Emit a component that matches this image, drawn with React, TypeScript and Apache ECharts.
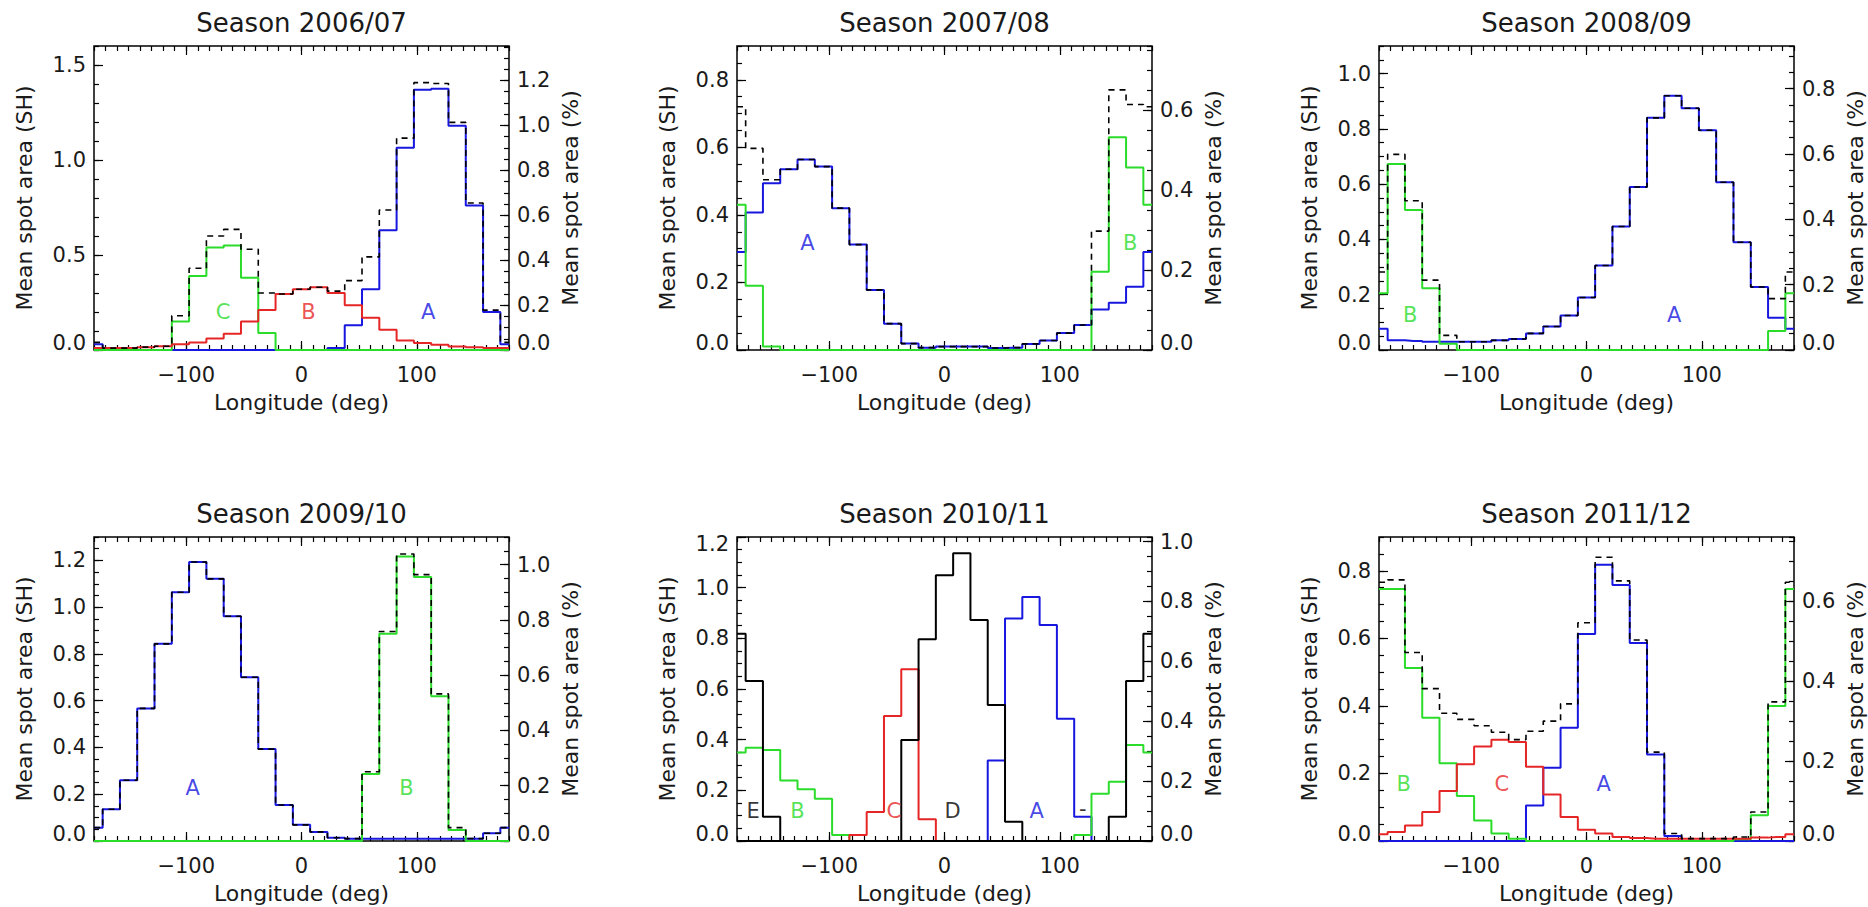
import React, { useEffect, useRef } from 'react';
import * as echarts from 'echarts';

// Bin centres (deg); -180 and 180 are the same wrapped bin
const LONGITUDES = [-180, -165, -150, -135, -120, -105, -90, -75, -60, -45, -30, -15, 0, 15, 30, 45, 60, 75, 90, 105, 120, 135, 150, 165, 180];
const X_LABELS = [-100, 0, 100];

// Season 2006/07
const S0607_A = [0.03, 0, 0, 0, 0, 0, 0, 0, 0, 0, 0, 0, 0, 0, 0.01, 0.13, 0.32, 0.63, 1.065, 1.37, 1.375, 1.18, 0.76, 0.2, 0.03];
const S0607_B = [0.01, 0.01, 0.01, 0.015, 0.02, 0.03, 0.04, 0.06, 0.085, 0.15, 0.21, 0.295, 0.32, 0.33, 0.3, 0.235, 0.17, 0.107, 0.05, 0.037, 0.028, 0.018, 0.014, 0.01, 0.01];
const S0607_C = [0, 0, 0, 0, 0, 0.15, 0.39, 0.54, 0.55, 0.38, 0.09, 0, 0, 0, 0, 0, 0, 0, 0, 0, 0, 0, 0, 0, 0];
const S0607_TOTAL = [0.04, 0.01, 0.01, 0.015, 0.02, 0.18, 0.43, 0.6, 0.635, 0.53, 0.3, 0.295, 0.32, 0.33, 0.31, 0.365, 0.49, 0.737, 1.115, 1.407, 1.403, 1.198, 0.774, 0.21, 0.04];

// Season 2007/08
const S0708_A = [0.29, 0.407, 0.494, 0.535, 0.564, 0.543, 0.42, 0.312, 0.178, 0.078, 0.019, 0.007, 0.01, 0.01, 0.01, 0.006, 0.007, 0.018, 0.028, 0.05, 0.074, 0.12, 0.14, 0.187, 0.29];
const S0708_B = [0.43, 0.19, 0.01, 0, 0, 0, 0, 0, 0, 0, 0, 0, 0, 0, 0, 0, 0, 0, 0, 0, 0, 0.232, 0.63, 0.54, 0.43];
const S0708_TOTAL = [0.72, 0.597, 0.504, 0.535, 0.564, 0.543, 0.42, 0.312, 0.178, 0.078, 0.019, 0.007, 0.01, 0.01, 0.01, 0.006, 0.007, 0.018, 0.028, 0.05, 0.074, 0.352, 0.77, 0.727, 0.72];

// Season 2008/09
const S0809_A = [0.077, 0.035, 0.033, 0.03, 0.03, 0.03, 0.03, 0.035, 0.04, 0.06, 0.085, 0.125, 0.19, 0.306, 0.447, 0.59, 0.84, 0.92, 0.875, 0.795, 0.607, 0.39, 0.228, 0.117, 0.077];
const S0809_B = [0.205, 0.673, 0.507, 0.223, 0.023, 0, 0, 0, 0, 0, 0, 0, 0, 0, 0, 0, 0, 0, 0, 0, 0, 0, 0, 0.069, 0.205];
const S0809_TOTAL = [0.282, 0.708, 0.54, 0.253, 0.053, 0.03, 0.03, 0.035, 0.04, 0.06, 0.085, 0.125, 0.19, 0.306, 0.447, 0.59, 0.84, 0.92, 0.875, 0.795, 0.607, 0.39, 0.228, 0.186, 0.282];

// Season 2009/10
const S0910_A = [0.057, 0.136, 0.26, 0.567, 0.843, 1.064, 1.193, 1.121, 0.961, 0.7, 0.393, 0.154, 0.069, 0.039, 0.014, 0.01, 0.01, 0.01, 0.01, 0.01, 0.01, 0.01, 0.01, 0.033, 0.057];
const S0910_B = [0, 0, 0, 0, 0, 0, 0, 0, 0, 0, 0, 0, 0, 0, 0, 0, 0.286, 0.886, 1.217, 1.129, 0.619, 0.047, 0, 0, 0];
const S0910_TOTAL = [0.057, 0.136, 0.26, 0.567, 0.843, 1.064, 1.193, 1.121, 0.961, 0.7, 0.393, 0.154, 0.069, 0.039, 0.014, 0.01, 0.296, 0.896, 1.227, 1.139, 0.629, 0.057, 0.01, 0.033, 0.057];

// Season 2010/11
const S1011_A = [0, 0, 0, 0, 0, 0, 0, 0, 0, 0, 0, 0, 0, 0, 0, 0.318, 0.878, 0.963, 0.853, 0.483, 0.096, 0, 0, 0, 0];
const S1011_B = [0.349, 0.368, 0.359, 0.239, 0.204, 0.167, 0.024, 0, 0, 0, 0, 0, 0, 0, 0, 0, 0, 0, 0, 0, 0.024, 0.187, 0.234, 0.379, 0.349];
const S1011_C = [0, 0, 0, 0, 0, 0, 0, 0.024, 0.114, 0.493, 0.678, 0.086, 0, 0, 0, 0, 0, 0, 0, 0, 0, 0, 0, 0, 0];
const S1011_D = [0, 0, 0, 0, 0, 0, 0, 0, 0, 0, 0.399, 0.796, 1.049, 1.136, 0.872, 0.537, 0.076, 0, 0, 0, 0, 0, 0, 0, 0];
const S1011_E = [0.818, 0.632, 0.096, 0, 0, 0, 0, 0, 0, 0, 0, 0, 0, 0, 0, 0, 0, 0, 0, 0, 0, 0, 0.096, 0.632, 0.818];

// Season 2011/12
const S1112_A = [0, 0, 0, 0, 0, 0, 0, 0, 0, 0.105, 0.217, 0.335, 0.613, 0.818, 0.758, 0.586, 0.256, 0.015, 0, 0, 0, 0, 0, 0, 0];
const S1112_B = [0.746, 0.746, 0.512, 0.365, 0.23, 0.133, 0.061, 0.022, 0.007, 0, 0, 0, 0, 0, 0, 0, 0, 0, 0, 0, 0, 0.005, 0.076, 0.4, 0.746];
const S1112_C = [0.02, 0.027, 0.046, 0.086, 0.148, 0.227, 0.28, 0.3, 0.293, 0.22, 0.138, 0.071, 0.033, 0.022, 0.012, 0.009, 0.007, 0.007, 0.007, 0.007, 0.007, 0.007, 0.01, 0.012, 0.02];
const S1112_TOTAL = [0.766, 0.773, 0.558, 0.451, 0.378, 0.36, 0.341, 0.322, 0.3, 0.325, 0.355, 0.406, 0.646, 0.84, 0.77, 0.595, 0.263, 0.022, 0.007, 0.007, 0.007, 0.012, 0.086, 0.412, 0.766];

// Axis tick labels
const LEFT_LABELS_0607 = [0, 0.5, 1.0, 1.5];
const LEFT_LABELS_0708 = [0, 0.2, 0.4, 0.6, 0.8];
const LEFT_LABELS_0809 = [0, 0.2, 0.4, 0.6, 0.8, 1.0];
const LEFT_LABELS_0910 = [0, 0.2, 0.4, 0.6, 0.8, 1.0, 1.2];
const LEFT_LABELS_1011 = [0, 0.2, 0.4, 0.6, 0.8, 1.0, 1.2];
const LEFT_LABELS_1112 = [0, 0.2, 0.4, 0.6, 0.8];
const RIGHT_LABELS_0607 = [0, 0.2, 0.4, 0.6, 0.8, 1.0, 1.2];
const RIGHT_LABELS_0708 = [0, 0.2, 0.4, 0.6];
const RIGHT_LABELS_0809 = [0, 0.2, 0.4, 0.6, 0.8];
const RIGHT_LABELS_0910 = [0, 0.2, 0.4, 0.6, 0.8, 1.0];
const RIGHT_LABELS_1011 = [0, 0.2, 0.4, 0.6, 0.8, 1.0];
const RIGHT_LABELS_1112 = [0, 0.2, 0.4, 0.6];

// Region letters: [text, longitude, value]
const NOTES_0607: [string, number, number][] = [['C', -68, 0.2], ['B', 6, 0.2], ['A', 110, 0.2]];
const NOTES_0708: [string, number, number][] = [['A', -119, 0.318], ['B', 161, 0.318]];
const NOTES_0809: [string, number, number][] = [['B', -153, 0.125], ['A', 76, 0.125]];
const NOTES_0910: [string, number, number][] = [['A', -94.5, 0.226], ['B', 91, 0.226]];
const NOTES_1011: [string, number, number][] = [['E', -166, 0.12], ['B', -127.5, 0.12], ['C', -44, 0.12], ['D', 7, 0.12], ['A', 80, 0.12], ['-', 120, 0.125]];
const NOTES_1112: [string, number, number][] = [['B', -158.5, 0.17], ['C', -73.5, 0.17], ['A', 15, 0.17]];

const BLUE = '#1717e0';
const GREEN = '#2bdc2b';
const RED = '#e62626';
const BLACK = '#000000';
const TEXT = '#1a1a1a';
const FONT = 'DejaVu Sans';
const PCT_PER_SH = 0.846;

const COLORS_DEFAULT: Record<string, string> = { A: BLUE, B: GREEN, C: RED, D: BLACK, E: BLACK, '-': BLACK };
const COLORS_0607: Record<string, string> = { A: BLUE, B: RED, C: GREEN };

type LineDef = { name: string; values: number[]; color: string; dashed?: boolean };
type PanelDef = {
  title: string;
  left: number;
  top: number;
  leftMax: number;
  leftLabels: number[];
  leftMinor: number;
  rightLabels: number[];
  topLabelAlign?: boolean;
  lines: LineDef[];
  notes: [string, number, number][];
  noteColors: Record<string, string>;
};

const PANELS: PanelDef[] = [
  {
    title: 'Season 2006/07', left: 94, top: 46, leftMax: 1.6, leftLabels: LEFT_LABELS_0607, leftMinor: 0.1, rightLabels: RIGHT_LABELS_0607,
    lines: [
      { name: 'A', values: S0607_A, color: BLUE },
      { name: 'C', values: S0607_C, color: GREEN },
      { name: 'B', values: S0607_B, color: RED },
      { name: 'Total', values: S0607_TOTAL, color: BLACK, dashed: true },
    ],
    notes: NOTES_0607, noteColors: COLORS_0607,
  },
  {
    title: 'Season 2007/08', left: 737, top: 46, leftMax: 0.9, leftLabels: LEFT_LABELS_0708, leftMinor: 0.05, rightLabels: RIGHT_LABELS_0708,
    lines: [
      { name: 'A', values: S0708_A, color: BLUE },
      { name: 'B', values: S0708_B, color: GREEN },
      { name: 'Total', values: S0708_TOTAL, color: BLACK, dashed: true },
    ],
    notes: NOTES_0708, noteColors: COLORS_DEFAULT,
  },
  {
    title: 'Season 2008/09', left: 1379, top: 46, leftMax: 1.1, leftLabels: LEFT_LABELS_0809, leftMinor: 0.05, rightLabels: RIGHT_LABELS_0809,
    lines: [
      { name: 'A', values: S0809_A, color: BLUE },
      { name: 'B', values: S0809_B, color: GREEN },
      { name: 'Total', values: S0809_TOTAL, color: BLACK, dashed: true },
    ],
    notes: NOTES_0809, noteColors: COLORS_DEFAULT,
  },
  {
    title: 'Season 2009/10', left: 94, top: 537, leftMax: 1.3, leftLabels: LEFT_LABELS_0910, leftMinor: 0.05, rightLabels: RIGHT_LABELS_0910,
    lines: [
      { name: 'A', values: S0910_A, color: BLUE },
      { name: 'B', values: S0910_B, color: GREEN },
      { name: 'Total', values: S0910_TOTAL, color: BLACK, dashed: true },
    ],
    notes: NOTES_0910, noteColors: COLORS_DEFAULT,
  },
  {
    title: 'Season 2010/11', left: 737, top: 537, leftMax: 1.2, leftLabels: LEFT_LABELS_1011, leftMinor: 0.05, rightLabels: RIGHT_LABELS_1011, topLabelAlign: true,
    lines: [
      { name: 'A', values: S1011_A, color: BLUE },
      { name: 'B', values: S1011_B, color: GREEN },
      { name: 'C', values: S1011_C, color: RED },
      { name: 'D', values: S1011_D, color: BLACK },
      { name: 'E', values: S1011_E, color: BLACK },
    ],
    notes: NOTES_1011, noteColors: COLORS_DEFAULT,
  },
  {
    title: 'Season 2011/12', left: 1379, top: 537, leftMax: 0.9, leftLabels: LEFT_LABELS_1112, leftMinor: 0.05, rightLabels: RIGHT_LABELS_1112,
    lines: [
      { name: 'A', values: S1112_A, color: BLUE },
      { name: 'B', values: S1112_B, color: GREEN },
      { name: 'C', values: S1112_C, color: RED },
      { name: 'Total', values: S1112_TOTAL, color: BLACK, dashed: true },
    ],
    notes: NOTES_1112, noteColors: COLORS_DEFAULT,
  },
];

const PANEL_W = 415;
const PANEL_H = 304;

const fmtLon = (v: number) => (v < 0 ? '\u2212' + Math.abs(v) : String(v));
const fmtVal = (v: number) => v.toFixed(1);

function buildOption() {
  const grid: any[] = [];
  const xAxis: any[] = [];
  const yAxis: any[] = [];
  const series: any[] = [];
  const title: any[] = [];

  const tickStyle = { color: BLACK, width: 1.2 };
  const labelBase = { color: TEXT, fontFamily: FONT, fontSize: 21, fontWeight: 'normal' };
  const nameStyle = { color: TEXT, fontFamily: FONT, fontSize: 22, fontWeight: 'normal' };

  PANELS.forEach((p, i) => {
    grid.push({
      left: p.left, top: p.top, width: PANEL_W, height: PANEL_H,
      show: true, borderColor: BLACK, borderWidth: 1.5, backgroundColor: 'transparent',
      containLabel: false, outerBoundsMode: 'none',
    });

    const xBase = { type: 'value', gridIndex: i, min: -180, max: 180, splitLine: { show: false }, axisLine: { show: false, onZero: false } };
    xAxis.push({
      ...xBase, position: 'bottom', interval: 10,
      axisTick: { show: true, inside: true, length: 5, lineStyle: tickStyle },
      axisLabel: { ...labelBase, customValues: X_LABELS, formatter: fmtLon, margin: 14 },
      name: 'Longitude (deg)', nameLocation: 'middle', nameGap: 41, nameTextStyle: nameStyle,
    });
    xAxis.push({
      ...xBase, position: 'bottom',
      axisTick: { show: true, inside: true, length: 9, customValues: X_LABELS, lineStyle: tickStyle },
      axisLabel: { show: false },
    });
    xAxis.push({
      ...xBase, position: 'top', interval: 10,
      axisTick: { show: true, inside: true, length: 5, lineStyle: tickStyle },
      axisLabel: { show: false },
    });
    xAxis.push({
      ...xBase, position: 'top',
      axisTick: { show: true, inside: true, length: 9, customValues: X_LABELS, lineStyle: tickStyle },
      axisLabel: { show: false },
    });

    const rightMax = p.leftMax * PCT_PER_SH;
    const yBase = { type: 'value', gridIndex: i, min: 0, splitLine: { show: false }, axisLine: { show: false, onZero: false } };
    yAxis.push({
      ...yBase, position: 'left', max: p.leftMax,
      axisTick: { show: true, inside: true, length: 9, customValues: p.leftLabels, lineStyle: tickStyle },
      axisLabel: {
        ...labelBase, customValues: p.leftLabels, formatter: fmtVal, margin: 8, lineHeight: 14,
        verticalAlignMinLabel: 'bottom', ...(p.topLabelAlign ? { verticalAlignMaxLabel: 'top' } : {}),
      },
      name: 'Mean spot area (SH)', nameLocation: 'middle', nameRotate: 90, nameGap: 59, nameTextStyle: nameStyle,
    });
    yAxis.push({
      ...yBase, position: 'left', max: p.leftMax, interval: p.leftMinor,
      axisTick: { show: true, inside: true, length: 5, lineStyle: tickStyle },
      axisLabel: { show: false },
    });
    yAxis.push({
      ...yBase, position: 'right', max: rightMax,
      axisTick: { show: true, inside: true, length: 9, customValues: p.rightLabels, lineStyle: tickStyle },
      axisLabel: { ...labelBase, customValues: p.rightLabels, formatter: fmtVal, margin: 8, lineHeight: 14, verticalAlignMinLabel: 'bottom' },
      name: 'Mean spot area (%)', nameLocation: 'middle', nameRotate: 90, nameGap: 50, nameTextStyle: nameStyle,
    });
    yAxis.push({
      ...yBase, position: 'right', max: rightMax, interval: 0.05,
      axisTick: { show: true, inside: true, length: 5, lineStyle: tickStyle },
      axisLabel: { show: false },
    });

    p.lines.forEach((ln) => {
      series.push({
        type: 'line', name: `${p.title} ${ln.name}`,
        xAxisIndex: i * 4, yAxisIndex: i * 4,
        step: 'middle', symbol: 'none', silent: true,
        data: LONGITUDES.map((lon, k) => [lon, ln.values[k]]),
        lineStyle: ln.dashed ? { color: ln.color, width: 1.6, type: [6, 5] } : { color: ln.color, width: 2 },
        z: ln.dashed ? 4 : 3,
      });
    });

    series.push({
      type: 'scatter', name: `${p.title} labels`,
      xAxisIndex: i * 4, yAxisIndex: i * 4,
      symbol: 'circle', symbolSize: 1, silent: true,
      itemStyle: { color: 'rgba(0,0,0,0)' },
      data: p.notes.map(([t, lon, v]) => ({
        name: t, value: [lon, v],
        label: { show: true, position: 'inside', formatter: t, color: p.noteColors[t] || BLACK, fontFamily: FONT, fontSize: 21, fontWeight: 'normal' },
      })),
      z: 5,
    });

    title.push({
      text: p.title,
      left: p.left + PANEL_W / 2,
      top: p.top - 36,
      textAlign: 'center',
      padding: 0,
      textStyle: { color: TEXT, fontFamily: FONT, fontSize: 26, fontWeight: 'normal' },
    });
  });

  return {
    animation: false,
    backgroundColor: '#ffffff',
    title, grid, xAxis, yAxis, series,
  };
}

export default function App() {
  const ref = useRef<HTMLDivElement>(null);
  useEffect(() => {
    if (!ref.current) return;
    const chart = echarts.init(ref.current, undefined, { renderer: 'svg' });
    chart.setOption(buildOption() as any);
    return () => chart.dispose();
  }, []);
  return (
    <div
      ref={ref}
      style={{ position: 'fixed', left: 0, top: 0, width: 1868, height: 907, background: '#fff' }}
    />
  );
}
